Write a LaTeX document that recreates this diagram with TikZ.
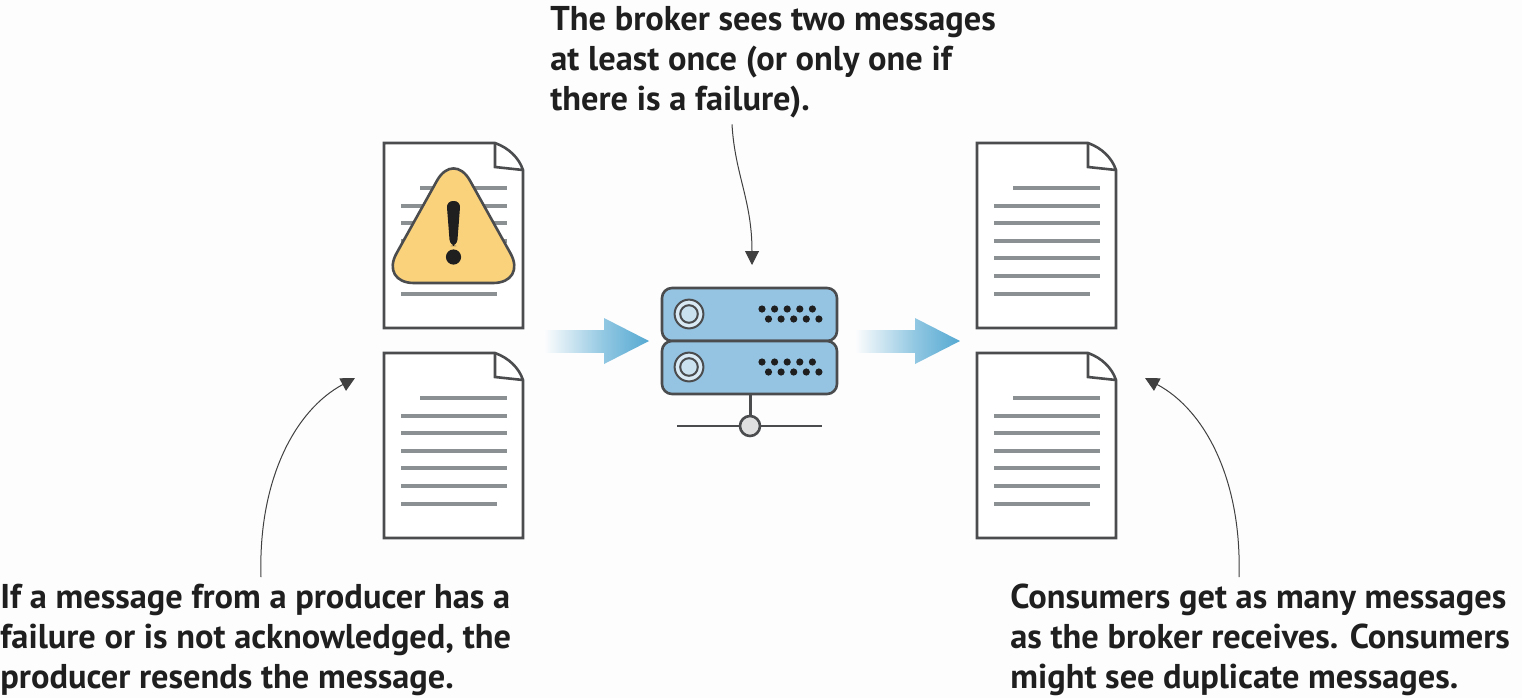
\documentclass[tikz,border=0pt]{standalone}
\usepackage{fontspec}
\setmainfont{PT Sans}
\usetikzlibrary{arrows.meta}
\definecolor{inkline}{HTML}{4A4C4E}
\definecolor{textline}{HTML}{8B9092}
\definecolor{serverblue}{HTML}{95C3E2}
\definecolor{arrowblue}{HTML}{55A9D2}
\definecolor{warnfill}{HTML}{FBD27C}
\definecolor{paper}{HTML}{FDFDFD}
\tikzset{
  note/.style={anchor=north west,inner sep=0pt,align=left,text=black!88,
    font=\fontsize{17.2}{20}\selectfont\bfseries},
  leader/.style={line width=.5pt,black!75,-{Triangle[length=7pt,width=7pt]}},
  pics/docpage/.style={code={
    \draw[inkline,line width=1.3pt,fill=white] (0,0)--(111,0) .. controls (125,5) and (135,15) .. (139,27)
      --(139,185)--(0,185)--cycle;
    \draw[inkline,line width=1.3pt] (111,0)--(111,24)--(139,27);
    \draw[textline,line width=1.6pt] (36,45)--(123,45);
    \foreach \yy in {63,80,98,115,133}{\draw[textline,line width=1.6pt] (17,\yy)--(123,\yy);}
    \draw[textline,line width=1.6pt] (17,151)--(113,151);
  }},
  pics/rack/.style={code={
    \draw[inkline,line width=1.3pt,fill=serverblue,rounded corners=5pt] (0,0) rectangle (175,53);
    \draw[inkline,line width=1pt,fill=serverblue!35] (27,26) circle (7.2pt);
    \draw[inkline,line width=1pt,fill=serverblue!50] (27,26) circle (4.4pt);
    \foreach \xx in {0,1,2,3,4}{
      \fill[black!88] (100+12.6*\xx,21) circle (1.8pt);
      \fill[black!88] (106.5+12.6*\xx,31) circle (1.8pt);}
  }},
  pics/flowarrow/.style={code={
    \shade[left color=paper,right color=arrowblue!65] (0,11)--(60,11)--(60,-11)--(0,-11)--cycle;
    \shade[left color=arrowblue!65,right color=arrowblue] (60,23)--(105,0)--(60,-23)--cycle;
  }}
}
\begin{document}
\begin{tikzpicture}[x=0.5pt,y=-0.5pt]
\path[fill=paper,use as bounding box] (0,0) rectangle (1522,698);
\pic at (384,143) {docpage};
\pic at (384,353) {docpage};
\pic at (977,143) {docpage};
\pic at (977,353) {docpage};
% warning sign on the first page
\draw[inkline,line width=1.3pt,fill=warnfill,rounded corners=17pt] (453.5,283)--(380,283)--(453.5,151)--(527,283)--cycle;
\fill[black!88,rounded corners=3.2pt] (446.5,201)--(460.5,201)--(457,246)--(450,246)--cycle;
\fill[black!88] (453.5,257) circle (3.8pt);
% broker
\draw[inkline,line width=1.5pt] (750,394)--(750,418);
\draw[inkline,line width=1.3pt] (677,426)--(822,426);
\pic at (662,288) {rack};
\pic at (662,341) {rack};
\node[circle,draw=inkline,line width=1.3pt,fill=black!12,minimum size=10pt,inner sep=0pt] (hub) at (750,426) {};
\pic at (544,341) {flowarrow};
\pic at (855,341) {flowarrow};
% notes
\node[note] (txtBroker) at (550,6) {The broker sees two messages\\at least once (or only one if\\there is a failure).};
\node[note] (txtProducer) at (0,584) {If a message from a producer has a\\failure or is not acknowledged, the\\producer resends the message.};
\node[note] (txtConsumer) at (1010,584) {Consumers get as many messages\\as the broker receives. Consumers\\might see duplicate messages.};
\coordinate (brokerTip) at (752,265);
\coordinate (producerTip) at (355,378);
\coordinate (consumerTip) at (1145,378);
\draw[leader] ([xshift=91pt,yshift=-3pt]txtBroker.south west) .. controls (735,175) and (752,200) .. (brokerTip);
\draw[leader] ([xshift=130.5pt,yshift=3.5pt]txtProducer.north west) .. controls (258,480) and (295,410) .. (producerTip);
\draw[leader] ([xshift=114.5pt,yshift=3.5pt]txtConsumer.north west) .. controls (1242,480) and (1205,410) .. (consumerTip);
\end{tikzpicture}
\end{document}
